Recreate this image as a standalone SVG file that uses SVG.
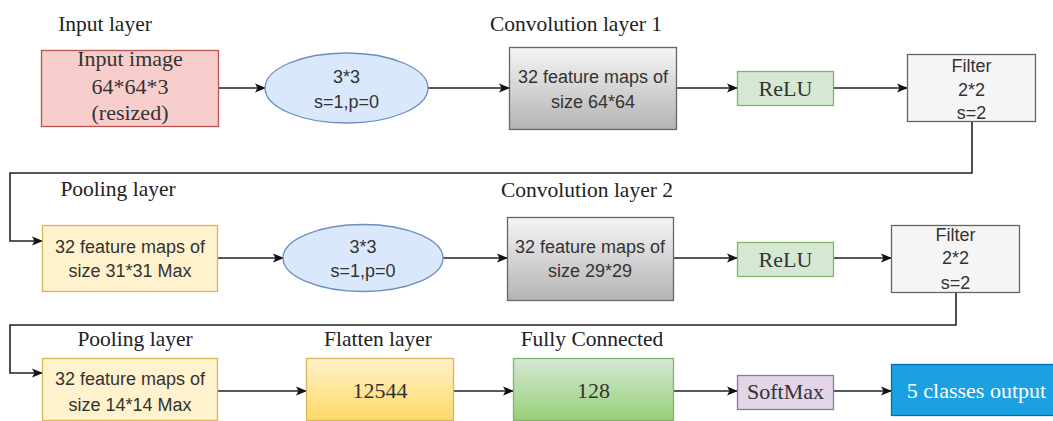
<svg xmlns="http://www.w3.org/2000/svg" width="1053" height="421" viewBox="0 0 1053 421">
<style>
.lbl{font-family:"Liberation Serif","Times New Roman",serif;font-size:21.5px;fill:#222;text-anchor:middle}
.serif{font-family:"Liberation Serif","Times New Roman",serif;font-size:22px;fill:#333;text-anchor:middle}
.sans{font-family:"Liberation Sans",Arial,sans-serif;font-size:18px;fill:#333;text-anchor:middle}
.conn{fill:none;stroke:#222;stroke-width:1.6}
</style>
<defs>
<marker id="arr" markerUnits="userSpaceOnUse" markerWidth="12" markerHeight="10" refX="10" refY="5" orient="auto">
<path d="M0,0.5 L11,5 L0,9.5 L2.5,5 Z" fill="#111"/>
</marker>
<linearGradient id="gGray" x1="0" y1="0" x2="0" y2="1"><stop offset="0" stop-color="#f5f5f5"/><stop offset="1" stop-color="#b3b3b3"/></linearGradient>
<linearGradient id="gYel" x1="0" y1="0" x2="0" y2="1"><stop offset="0" stop-color="#fff2cc"/><stop offset="1" stop-color="#ffd966"/></linearGradient>
<linearGradient id="gGrn" x1="0" y1="0" x2="0" y2="1"><stop offset="0" stop-color="#d5e8d4"/><stop offset="1" stop-color="#97d077"/></linearGradient>
</defs>
<rect width="1053" height="421" fill="#fff"/>

<g id="labels">
<text class="lbl" x="105" y="31">Input layer</text>
<text class="lbl" x="576" y="31">Convolution layer 1</text>
<text class="lbl" x="118" y="196">Pooling layer</text>
<text class="lbl" x="587" y="197">Convolution layer 2</text>
<text class="lbl" x="135" y="346">Pooling layer</text>
<text class="lbl" x="378" y="346">Flatten layer</text>
<text class="lbl" x="592" y="346">Fully Connected</text>
</g>

<g id="connectors">
<line class="conn" x1="218" y1="88" x2="265" y2="88" marker-end="url(#arr)"/>
<line class="conn" x1="428" y1="88" x2="509" y2="88" marker-end="url(#arr)"/>
<line class="conn" x1="677" y1="88" x2="737" y2="88" marker-end="url(#arr)"/>
<line class="conn" x1="834" y1="88" x2="907" y2="88" marker-end="url(#arr)"/>
<polyline class="conn" points="972,122 972,173 10,173 10,241 42,241" marker-end="url(#arr)"/>
<line class="conn" x1="218" y1="258" x2="283" y2="258" marker-end="url(#arr)"/>
<line class="conn" x1="443" y1="258" x2="507" y2="258" marker-end="url(#arr)"/>
<line class="conn" x1="673" y1="258" x2="737" y2="258" marker-end="url(#arr)"/>
<line class="conn" x1="834" y1="258" x2="891" y2="258" marker-end="url(#arr)"/>
<polyline class="conn" points="956,292 956,325 10,325 10,373 42,373" marker-end="url(#arr)"/>
<line class="conn" x1="218" y1="391" x2="306" y2="391" marker-end="url(#arr)"/>
<line class="conn" x1="454" y1="391" x2="513" y2="391" marker-end="url(#arr)"/>
<line class="conn" x1="674" y1="391" x2="737" y2="391" marker-end="url(#arr)"/>
<line class="conn" x1="834" y1="391" x2="891" y2="391" marker-end="url(#arr)"/>
</g>

<g id="input">
<rect x="41.5" y="50.5" width="177" height="76" fill="#f8cecc" stroke="#b85450" stroke-width="1.3"/>
<text class="serif" x="130" y="66">Input image</text>
<text class="serif" x="130" y="94">64*64*3</text>
<text class="serif" x="130" y="120">(resized)</text>
</g>
<g id="conv1k">
<ellipse cx="346.5" cy="88" rx="81.5" ry="35" fill="#dae8fc" stroke="#6c8ebf" stroke-width="1.3"/>
<text class="sans" x="346.5" y="83">3*3</text>
<text class="sans" x="346.5" y="108">s=1,p=0</text>
</g>
<g id="conv1">
<rect x="509.5" y="47.5" width="167" height="82" fill="url(#gGray)" stroke="#666" stroke-width="1.3"/>
<text class="sans" x="593" y="83">32 feature maps of</text>
<text class="sans" x="593" y="108">size 64*64</text>
</g>
<g id="relu1">
<rect x="737.5" y="71.5" width="96" height="34" fill="#d5e8d4" stroke="#82b366" stroke-width="1.3"/>
<text class="serif" x="785.5" y="96">ReLU</text>
</g>
<g id="filter1">
<rect x="907.5" y="54.5" width="128" height="67" fill="#f5f5f5" stroke="#666" stroke-width="1.3"/>
<text class="sans" x="971.5" y="72">Filter</text>
<text class="sans" x="971.5" y="96">2*2</text>
<text class="sans" x="971.5" y="119">s=2</text>
</g>

<g id="pool1">
<rect x="42.5" y="225.5" width="175" height="66" fill="#fff2cc" stroke="#d6b656" stroke-width="1.3"/>
<text class="sans" x="130" y="253">32 feature maps of</text>
<text class="sans" x="130" y="277">size 31*31 Max</text>
</g>
<g id="conv2k">
<ellipse cx="363" cy="258" rx="80" ry="33.5" fill="#dae8fc" stroke="#6c8ebf" stroke-width="1.3"/>
<text class="sans" x="363" y="253">3*3</text>
<text class="sans" x="363" y="277">s=1,p=0</text>
</g>
<g id="conv2">
<rect x="507.5" y="217.5" width="166" height="83" fill="url(#gGray)" stroke="#666" stroke-width="1.3"/>
<text class="sans" x="590" y="253">32 feature maps of</text>
<text class="sans" x="590" y="277">size 29*29</text>
</g>
<g id="relu2">
<rect x="737.5" y="242.5" width="96" height="34" fill="#d5e8d4" stroke="#82b366" stroke-width="1.3"/>
<text class="serif" x="785.5" y="267">ReLU</text>
</g>
<g id="filter2">
<rect x="891.5" y="225.5" width="128" height="67" fill="#f5f5f5" stroke="#666" stroke-width="1.3"/>
<text class="sans" x="955.5" y="241">Filter</text>
<text class="sans" x="955.5" y="264">2*2</text>
<text class="sans" x="955.5" y="289">s=2</text>
</g>

<g id="pool2">
<rect x="42.5" y="358.5" width="175" height="62" fill="#fff2cc" stroke="#d6b656" stroke-width="1.3"/>
<text class="sans" x="130" y="385">32 feature maps of</text>
<text class="sans" x="130" y="411">size 14*14 Max</text>
</g>
<g id="flatten">
<rect x="306.5" y="358.5" width="147" height="62" fill="url(#gYel)" stroke="#d6b656" stroke-width="1.3"/>
<text class="serif" x="380" y="398">12544</text>
</g>
<g id="fc">
<rect x="513.5" y="358.5" width="160" height="62" fill="url(#gGrn)" stroke="#82b366" stroke-width="1.3"/>
<text class="serif" x="593.5" y="398">128</text>
</g>
<g id="softmax">
<rect x="737.5" y="375.5" width="96" height="34" fill="#e1d5e7" stroke="#9673a6" stroke-width="1.3"/>
<text class="serif" x="785.5" y="399">SoftMax</text>
</g>
<g id="output">
<rect x="891.5" y="364.5" width="170" height="51" fill="#1ba1e2" stroke="#006eaf" stroke-width="1.3"/>
<text class="serif" x="976.5" y="398" style="fill:#fff">5 classes output</text>
</g>
</svg>
